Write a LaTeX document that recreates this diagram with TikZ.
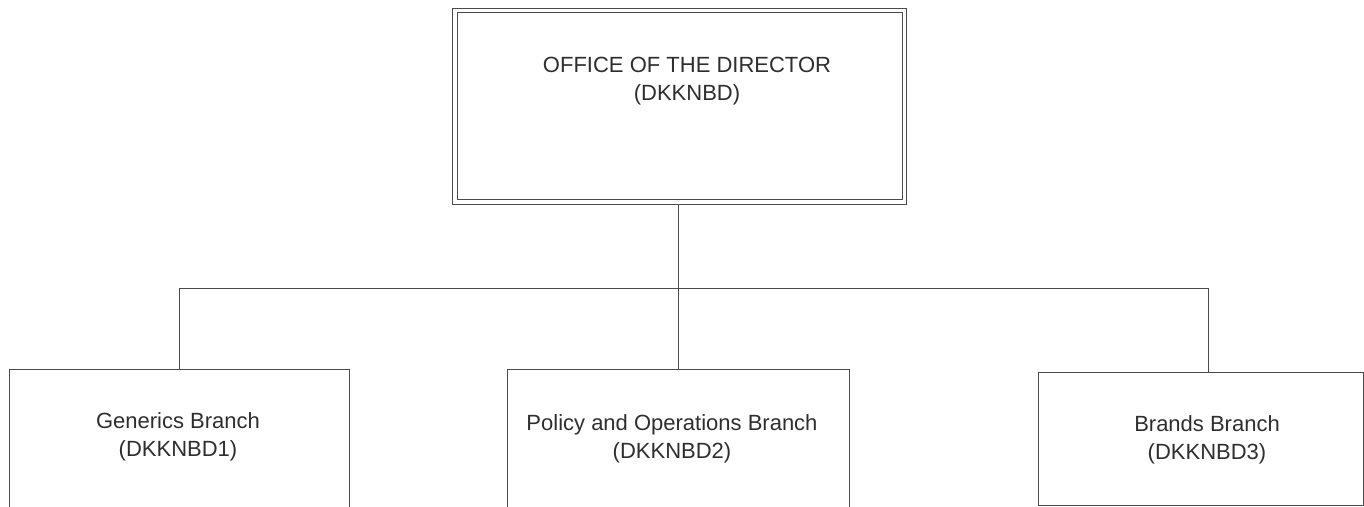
\documentclass[tikz,border=0pt]{standalone}
\usepackage{fontspec}
\setmainfont{Liberation Sans}
\definecolor{linec}{HTML}{4A4A4A}
\definecolor{textc}{HTML}{2E2E2E}
\tikzset{
  boxe/.style={draw=linec, line width=1pt, rectangle, inner sep=0pt},
  lbl/.style={text=textc, align=center, inner sep=0pt, font=\fontsize{22}{28}\selectfont},
  conn/.style={draw=linec, line width=1pt}
}
\begin{document}
\begin{tikzpicture}[x=1pt,y=-1pt]
\useasboundingbox (0,0) rectangle (1364,506);
\clip (0,0) rectangle (1364,506);
% boxes
\node[boxe, minimum width=454pt, minimum height=196pt, anchor=north west] (top) at (451.5,7.5) {};
\draw[linec, line width=1pt] ([shift={(5.5pt,-5pt)}]top.north west) rectangle ([shift={(-4.5pt,5pt)}]top.south east);
\node[boxe, minimum width=340pt, minimum height=200pt, anchor=north west] (b1) at (9,369) {};
\node[boxe, minimum width=342pt, minimum height=200pt, anchor=north west] (b2) at (507,369) {};
\node[boxe, minimum width=325pt, minimum height=133pt, anchor=north west] (b3) at (1038,372) {};
% labels
\node[lbl] (ttop) at (687,81) {OFFICE OF THE DIRECTOR\\(DKKNBD)};
\node[lbl] (t1) at (178,437) {Generics Branch\\(DKKNBD1)};
\node[lbl] (t2) at (672,439) {Policy and Operations Branch\\(DKKNBD2)};
\node[lbl] (t3) at (1207,440) {Brands Branch\\(DKKNBD3)};
% connectors
\coordinate (bus) at (677,288);
\coordinate (c3) at (1208,372);
\draw[conn] (top.south -| b2.north) -- (b2.north);
\draw[conn] (b1.north) -- (b1.north |- bus) -- (bus -| c3) -- (c3);
\end{tikzpicture}
\end{document}
